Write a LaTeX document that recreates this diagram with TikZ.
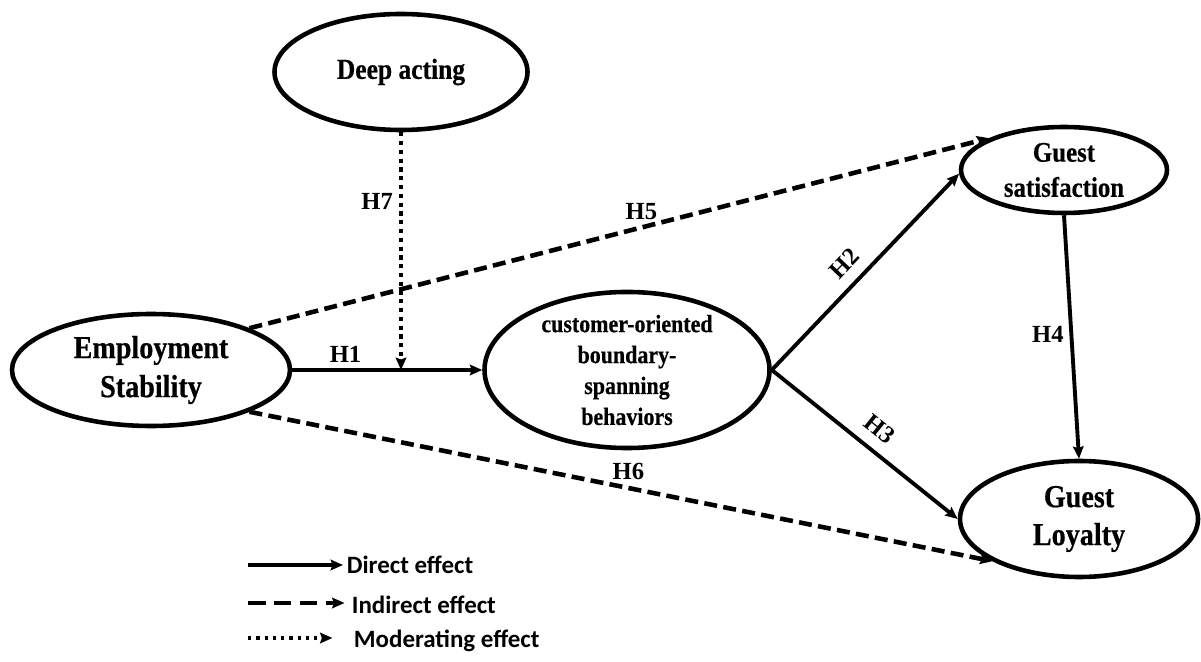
\documentclass[tikz,border=0pt]{standalone}
\usepackage{fontspec}
\setmainfont{Liberation Serif}
\newfontfamily\nodefont{Liberation Serif}[UprightFont={* Bold},FakeStretch=0.88,FakeBold=0.5]
\newfontfamily\legfont{Carlito}
\usetikzlibrary{shapes.geometric,arrows.meta}

\begin{document}
\begin{tikzpicture}[
  construct/.style={ellipse,draw,line width=2.6pt,inner sep=0pt,align=center},
  direct/.style={-{Stealth[length=7pt,width=6pt,inset=1pt]},line width=2.2pt},
  indirect/.style={-{Stealth[length=7pt,width=6pt,inset=1pt]},line width=2.6pt,dash pattern=on 7.4pt off 3.6pt},
  moder/.style={-{Stealth[length=7pt,width=6pt,inset=1pt]},line width=2.6pt,dash pattern=on 2.4pt off 2.6pt},
  hyp/.style={font=\bfseries\fontsize{14}{16}\selectfont},
  legtext/.style={anchor=west,inner sep=2pt,font=\legfont\bfseries\fontsize{14.2}{16}\selectfont}]
\useasboundingbox (0,0) rectangle (24.02,13.22);

% constructs
\node[construct,minimum width=5.06cm,minimum height=2.32cm,font=\nodefont\fontsize{16.5}{20}\selectfont] (deep) at (8.02,11.78) {Deep acting};
\node[construct,minimum width=5.56cm,minimum height=2.24cm,font=\nodefont\fontsize{18.2}{22.2}\selectfont] (emp) at (3.02,5.82) {Employment\\Stability};
\node[construct,minimum width=5.7cm,minimum height=2.8cm,font=\nodefont\fontsize{14.2}{17.6}\selectfont] (cobsb) at (12.54,5.82) {customer-oriented\\boundary-\\spanning\\behaviors};
\node[construct,minimum width=4.12cm,minimum height=1.72cm,font=\nodefont\fontsize{16.1}{20}\selectfont] (gsat) at (21.28,9.82) {Guest\\satisfaction};
\node[construct,minimum width=4.76cm,minimum height=2.32cm,font=\nodefont\fontsize{18.2}{21.6}\selectfont] (gloy) at (21.58,2.84) {Guest\\Loyalty};

% hypotheses
\coordinate (mod) at (deep.south |- emp.east);
\draw[direct] (emp.east) -- (cobsb.west) node[hyp,pos=0.28,above] {H1};
\draw[moder] (deep.south) -- (mod) node[hyp,pos=0.29,left] {H7};
\draw[indirect] (emp.23) -- (gsat.157) node[hyp,pos=0.53,above] {H5};
\draw[indirect] (emp.-23) -- (gloy.206) node[hyp,pos=0.51,above] {H6};
\draw[direct] (cobsb.east) -- (gsat.182) node[hyp,pos=0.47,above=3pt,sloped] {H2};
\draw[direct] (cobsb.east) -- (gloy.west) node[hyp,pos=0.51,above=3pt,sloped] {H3};
\draw[direct] (gsat.south) -- (gloy.north) node[hyp,pos=0.49,left] {H4};

% legend
\node[legtext] (ldir) at (6.86,1.92) {Direct effect};
\node[legtext] (lind) at (6.96,1.13) {Indirect effect};
\node[legtext] (lmod) at (7.0,0.41) {Moderating effect};
\coordinate (ldir0) at (4.96,1.92);
\coordinate (lind0) at (4.96,1.16);
\coordinate (lmod0) at (4.96,0.46);
\draw[-{Stealth[length=7pt,width=6pt,inset=1pt]},line width=2.4pt] (ldir0) -- (ldir.west);
\draw[-{Stealth[length=7pt,width=6pt,inset=1pt]},line width=2.4pt,dash pattern=on 10pt off 4.7pt] (lind0) -- ([xshift=-2pt]lind.west |- lind0);
\draw[-{Stealth[length=7pt,width=6pt,inset=1pt]},line width=2.4pt,dash pattern=on 1.9pt off 2.8pt] (lmod0) -- ([xshift=-10pt]lmod.west |- lmod0);
\end{tikzpicture}
\end{document}
